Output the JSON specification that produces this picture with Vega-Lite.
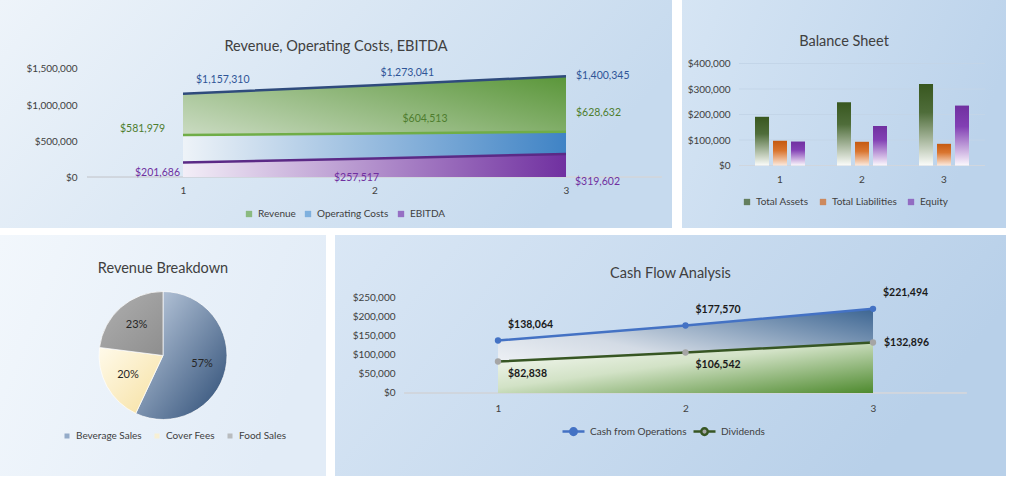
{
"$schema": "https://vega.github.io/schema/vega-lite/v6.json",
"padding": 0,
"background": "#ffffff",
"config": {
 "view": {"stroke": null},
 "font": "Lato",
 "axis": {"domain": false, "ticks": false, "grid": false, "labelColor": "#404040", "labelFont": "Lato", "labelFontSize": 10, "labelOverlap": false, "labelFlush": false},
 "legend": {"labelColor": "#404040", "labelFont": "Lato", "labelFontSize": 10, "orient": "none", "direction": "horizontal", "symbolType": "square", "symbolSize": 40, "symbolStrokeWidth": 0, "columnPadding": 10, "labelOffset": 4, "padding": 0},
 "title": {"font": "Lato", "fontSize": 14.5, "fontWeight": "normal", "color": "#404040", "anchor": "middle", "frame": "group", "baseline": "middle"}
},
"datasets": {
 "pl": [
  {"period": 1, "series": "Revenue", "value": 1157310},
  {"period": 2, "series": "Revenue", "value": 1273041},
  {"period": 3, "series": "Revenue", "value": 1400345},
  {"period": 1, "series": "Operating Costs", "value": 581979},
  {"period": 2, "series": "Operating Costs", "value": 604513},
  {"period": 3, "series": "Operating Costs", "value": 628632},
  {"period": 1, "series": "EBITDA", "value": 201686},
  {"period": 2, "series": "EBITDA", "value": 257517},
  {"period": 3, "series": "EBITDA", "value": 319602}
 ],
 "bs": [
  {"period": 1, "series": "Total Assets", "value": 191000},
  {"period": 2, "series": "Total Assets", "value": 248000},
  {"period": 3, "series": "Total Assets", "value": 320000},
  {"period": 1, "series": "Total Liabilities", "value": 97000},
  {"period": 2, "series": "Total Liabilities", "value": 93000},
  {"period": 3, "series": "Total Liabilities", "value": 85000},
  {"period": 1, "series": "Equity", "value": 94000},
  {"period": 2, "series": "Equity", "value": 155000},
  {"period": 3, "series": "Equity", "value": 235000}
 ],
 "grid": [{"value": 100000}, {"value": 200000}, {"value": 300000}, {"value": 400000}],
 "rev": [
  {"source": "Beverage Sales", "share": 0.57},
  {"source": "Cover Fees", "share": 0.20},
  {"source": "Food Sales", "share": 0.23}
 ],
 "cf": [
  {"period": 1, "series": "Cash from Operations", "value": 138064},
  {"period": 2, "series": "Cash from Operations", "value": 177570},
  {"period": 3, "series": "Cash from Operations", "value": 221494},
  {"period": 1, "series": "Dividends", "value": 82838},
  {"period": 2, "series": "Dividends", "value": 106542},
  {"period": 3, "series": "Dividends", "value": 132896}
 ]
},
"spacing": 7,
"resolve": {"scale": {"x": "independent", "y": "independent", "color": "independent", "fill": "independent", "stroke": "independent"}, "legend": {"color": "independent", "fill": "independent", "stroke": "independent"}},
"vconcat": [
 {
  "spacing": 10,
  "bounds": "flush",
  "resolve": {"scale": {"x": "independent", "y": "independent", "color": "independent", "fill": "independent", "stroke": "independent"}, "legend": {"color": "independent", "fill": "independent", "stroke": "independent"}},
  "hconcat": [
   {
    "width": 672, "height": 228,
    "view": {"stroke": null, "fill": {"gradient": "linear", "x1": 0, "y1": 0, "x2": 1, "y2": 0.3, "stops": [{"offset": 0, "color": "#eef4fa"}, {"offset": 1, "color": "#c6daee"}]}},
    "title": {"text": "Revenue, Operating Costs, EBITDA", "offset": -54},
    "data": {"name": "pl"},
    "encoding": {
     "x": {"field": "period", "type": "quantitative", "scale": {"domain": [0.0444, 3.5535], "nice": false, "zero": false}, "axis": {"values": [1, 2, 3], "format": "d", "offset": -51, "labelPadding": 8, "title": null}},
     "y": {"field": "value", "type": "quantitative", "scale": {"domain": [-708333, 2458333], "nice": false, "zero": false}, "axis": {"values": [0, 500000, 1000000, 1500000], "format": "$,.0f", "offset": -82, "labelPadding": 5, "title": null}}
    },
    "layer": [
     {"mark": {"type": "rule", "color": "#d0d6de", "strokeWidth": 1}, "encoding": {"x": {"datum": 0.5}, "x2": {"datum": 3.5}, "y": {"datum": 0}}},
     {"transform": [{"filter": "datum.series === 'Revenue'"}], "mark": {"type": "area", "fill": {"gradient": "linear", "x1": 0, "y1": 1, "x2": 1, "y2": 0, "stops": [{"offset": 0, "color": "#e8ede6"}, {"offset": 1, "color": "#5a9639"}]}}, "encoding": {"y2": {"datum": 0}}},
     {"transform": [{"filter": "datum.series === 'Operating Costs'"}], "mark": {"type": "area", "fill": {"gradient": "linear", "x1": 0, "y1": 0, "x2": 1, "y2": 0, "stops": [{"offset": 0, "color": "#eef3f8"}, {"offset": 1, "color": "#3f83c5"}]}}, "encoding": {"y2": {"datum": 0}}},
     {"transform": [{"filter": "datum.series === 'EBITDA'"}], "mark": {"type": "area", "fill": {"gradient": "linear", "x1": 0, "y1": 0, "x2": 1, "y2": 0, "stops": [{"offset": 0, "color": "#f3eef7"}, {"offset": 1, "color": "#7030a0"}]}}, "encoding": {"y2": {"datum": 0}}},
     {"transform": [{"filter": "datum.series === 'Revenue'"}], "mark": {"type": "line", "strokeWidth": 2.5, "stroke": "#2f4b7c"}},
     {"transform": [{"filter": "datum.series === 'Operating Costs'"}], "mark": {"type": "line", "strokeWidth": 2.5, "stroke": "#70ad47"}},
     {"transform": [{"filter": "datum.series === 'EBITDA'"}], "mark": {"type": "line", "strokeWidth": 2.5, "stroke": "#5b2a86"}},
     {"mark": {"type": "square", "size": 0}, "encoding": {"color": {"field": "series", "type": "nominal", "scale": {"domain": ["Revenue", "Operating Costs", "EBITDA"], "range": ["#6aa84f", "#5b9bd5", "#7f3fb0"]}, "legend": {"title": null, "legendX": 244, "legendY": 209, "columnPadding": 7}}}},
     {"transform": [{"filter": "datum.series === 'Revenue' && datum.period === 1"}], "mark": {"type": "text", "align": "left", "dx": 13, "dy": -14, "fontSize": 10.5, "color": "#2f5597"}, "encoding": {"text": {"field": "value", "type": "quantitative", "format": "$,.0f"}}},
     {"transform": [{"filter": "datum.series === 'Revenue' && datum.period === 2"}], "mark": {"type": "text", "align": "left", "dx": 6, "dy": -12, "fontSize": 10.5, "color": "#2f5597"}, "encoding": {"text": {"field": "value", "type": "quantitative", "format": "$,.0f"}}},
     {"transform": [{"filter": "datum.series === 'Revenue' && datum.period === 3"}], "mark": {"type": "text", "align": "left", "dx": 10, "dy": 0, "fontSize": 10.5, "color": "#2f5597"}, "encoding": {"text": {"field": "value", "type": "quantitative", "format": "$,.0f"}}},
     {"transform": [{"filter": "datum.series === 'Operating Costs' && datum.period === 1"}], "mark": {"type": "text", "align": "right", "dx": -18, "dy": -6, "fontSize": 10.5, "color": "#4e7d2e"}, "encoding": {"text": {"field": "value", "type": "quantitative", "format": "$,.0f"}}},
     {"transform": [{"filter": "datum.series === 'Operating Costs' && datum.period === 2"}], "mark": {"type": "text", "align": "left", "dx": 28, "dy": -14, "fontSize": 10.5, "color": "#4e7d2e"}, "encoding": {"text": {"field": "value", "type": "quantitative", "format": "$,.0f"}}},
     {"transform": [{"filter": "datum.series === 'Operating Costs' && datum.period === 3"}], "mark": {"type": "text", "align": "left", "dx": 10, "dy": -19, "fontSize": 10.5, "color": "#4e7d2e"}, "encoding": {"text": {"field": "value", "type": "quantitative", "format": "$,.0f"}}},
     {"transform": [{"filter": "datum.series === 'EBITDA' && datum.period === 1"}], "mark": {"type": "text", "align": "right", "dx": -3, "dy": 11, "fontSize": 10.5, "color": "#7030a0"}, "encoding": {"text": {"field": "value", "type": "quantitative", "format": "$,.0f"}}},
     {"transform": [{"filter": "datum.series === 'EBITDA' && datum.period === 2"}], "mark": {"type": "text", "align": "center", "dx": -18, "dy": 20, "fontSize": 10.5, "color": "#7030a0"}, "encoding": {"text": {"field": "value", "type": "quantitative", "format": "$,.0f"}}},
     {"transform": [{"filter": "datum.series === 'EBITDA' && datum.period === 3"}], "mark": {"type": "text", "align": "left", "dx": 9, "dy": 28, "fontSize": 10.5, "color": "#7030a0"}, "encoding": {"text": {"field": "value", "type": "quantitative", "format": "$,.0f"}}}
    ]
   },
   {
    "width": 324, "height": 228,
    "view": {"stroke": null, "fill": {"gradient": "linear", "x1": 0, "y1": 0, "x2": 1, "y2": 0.3, "stops": [{"offset": 0, "color": "#d6e5f4"}, {"offset": 1, "color": "#bcd3eb"}]}},
    "title": {"text": "Balance Sheet", "offset": -49},
    "data": {"name": "bs"},
    "encoding": {
     "x": {"field": "period", "type": "ordinal", "scale": {"paddingInner": 0.39, "paddingOuter": 0.6707, "align": 0.6637}, "axis": {"offset": -62.5, "labelPadding": 9, "labelAngle": 0, "title": null}},
     "y": {"field": "value", "type": "quantitative", "scale": {"domain": [-245098, 649020], "nice": false, "zero": false}, "axis": {"values": [0, 100000, 200000, 300000, 400000], "format": "$,.0f", "offset": -53, "labelPadding": 5, "title": null}}
    },
    "layer": [
     {"data": {"name": "grid"}, "mark": {"type": "rule", "color": "#c3d5e8", "strokeWidth": 1}, "encoding": {"x": {"datum": 1, "bandPosition": -0.32}, "x2": {"datum": 3, "bandPosition": 1.32}, "y": {"field": "value", "type": "quantitative"}}},
     {"mark": {"type": "rule", "color": "#d0d6de", "strokeWidth": 1}, "encoding": {"x": {"datum": 1, "bandPosition": -0.32}, "x2": {"datum": 3, "bandPosition": 1.32}, "y": {"datum": 0}}},
     {"transform": [{"filter": "datum.series === 'Total Assets'"}], "mark": {"type": "bar", "fill": {"gradient": "linear", "x1": 0, "y1": 0, "x2": 0, "y2": 1, "stops": [{"offset": 0, "color": "#38571f"}, {"offset": 0.35, "color": "#4f6d3a"}, {"offset": 1, "color": "#fbfcfa"}]}}, "encoding": {"xOffset": {"field": "series", "type": "nominal", "scale": {"domain": ["Total Assets", "Total Liabilities", "Equity"], "paddingInner": 0.22, "paddingOuter": 0}}, "y2": {"datum": 0}}},
     {"transform": [{"filter": "datum.series === 'Total Liabilities'"}], "mark": {"type": "bar", "fill": {"gradient": "linear", "x1": 0, "y1": 0, "x2": 0, "y2": 1, "stops": [{"offset": 0, "color": "#c55a11"}, {"offset": 0.4, "color": "#d9752f"}, {"offset": 1, "color": "#fce9dc"}]}}, "encoding": {"xOffset": {"field": "series", "type": "nominal", "scale": {"domain": ["Total Assets", "Total Liabilities", "Equity"], "paddingInner": 0.22, "paddingOuter": 0}}, "y2": {"datum": 0}}},
     {"transform": [{"filter": "datum.series === 'Equity'"}], "mark": {"type": "bar", "fill": {"gradient": "linear", "x1": 0, "y1": 0, "x2": 0, "y2": 1, "stops": [{"offset": 0, "color": "#7030a0"}, {"offset": 0.35, "color": "#8240b4"}, {"offset": 1, "color": "#fbf8fd"}]}}, "encoding": {"xOffset": {"field": "series", "type": "nominal", "scale": {"domain": ["Total Assets", "Total Liabilities", "Equity"], "paddingInner": 0.22, "paddingOuter": 0}}, "y2": {"datum": 0}}},
     {"mark": {"type": "square", "size": 0}, "encoding": {"color": {"field": "series", "type": "nominal", "scale": {"domain": ["Total Assets", "Total Liabilities", "Equity"], "range": ["#38571f", "#d0661f", "#7f3fb0"]}, "legend": {"title": null, "legendX": 60, "legendY": 197, "columnPadding": 9}}}}
    ]
   }
  ]
 },
 {
  "spacing": 9,
  "bounds": "flush",
  "resolve": {"scale": {"x": "independent", "y": "independent", "color": "independent", "fill": "independent", "stroke": "independent"}, "legend": {"color": "independent", "fill": "independent", "stroke": "independent"}},
  "hconcat": [
   {
    "width": 326, "height": 241,
    "view": {"stroke": null, "fill": {"gradient": "linear", "x1": 0, "y1": 0, "x2": 1, "y2": 0.3, "stops": [{"offset": 0, "color": "#f2f7fc"}, {"offset": 1, "color": "#e2ecf7"}]}},
    "title": {"text": "Revenue Breakdown", "offset": -41},
    "data": {"name": "rev"},
    "transform": [{"stack": "share", "groupby": [], "as": ["t0", "t1"], "sort": [{"field": "source", "order": "ascending"}]}, {"calculate": "(datum.t0 + datum.t1) / 2", "as": "mid"}],
    "layer": [
     {"transform": [{"filter": "datum.source === 'Beverage Sales'"}], "mark": {"type": "arc", "outerRadius": 64, "stroke": "#ffffff", "strokeWidth": 0.7, "fill": {"gradient": "linear", "x1": 0, "y1": 0, "x2": 1, "y2": 1, "stops": [{"offset": 0, "color": "#c7d4e5"}, {"offset": 1, "color": "#2b4b74"}]}}, "encoding": {"theta": {"field": "t0", "type": "quantitative", "scale": {"domain": [0, 1]}}, "theta2": {"field": "t1"}}},
     {"transform": [{"filter": "datum.source === 'Cover Fees'"}], "mark": {"type": "arc", "outerRadius": 64, "stroke": "#ffffff", "strokeWidth": 0.7, "fill": {"gradient": "linear", "x1": 0, "y1": 0, "x2": 1, "y2": 1, "stops": [{"offset": 0, "color": "#fffaea"}, {"offset": 1, "color": "#f6e0a0"}]}}, "encoding": {"theta": {"field": "t0", "type": "quantitative", "scale": {"domain": [0, 1]}}, "theta2": {"field": "t1"}}},
     {"transform": [{"filter": "datum.source === 'Food Sales'"}], "mark": {"type": "arc", "outerRadius": 64, "stroke": "#ffffff", "strokeWidth": 0.7, "fill": {"gradient": "linear", "x1": 0, "y1": 0, "x2": 1, "y2": 1, "stops": [{"offset": 0, "color": "#b0b0b0"}, {"offset": 1, "color": "#8e8e8e"}]}}, "encoding": {"theta": {"field": "t0", "type": "quantitative", "scale": {"domain": [0, 1]}}, "theta2": {"field": "t1"}}},
     {"mark": {"type": "square", "size": 0}, "encoding": {"color": {"field": "source", "type": "nominal", "scale": {"domain": ["Beverage Sales", "Cover Fees", "Food Sales"], "range": ["#6f8db3", "#fdf0c4", "#a6a6a6"]}, "legend": {"title": null, "legendX": 62, "legendY": 196, "symbolSize": 25}}}},
     {"mark": {"type": "text", "radius": 40, "fontSize": 11, "color": "#262626"}, "encoding": {"theta": {"field": "mid", "type": "quantitative", "scale": {"domain": [0, 1]}}, "text": {"field": "share", "type": "quantitative", "format": ".0%"}}}
    ]
   },
   {
    "width": 671, "height": 241,
    "view": {"stroke": null, "fill": {"gradient": "linear", "x1": 0, "y1": 0, "x2": 1, "y2": 0.3, "stops": [{"offset": 0, "color": "#dae7f5"}, {"offset": 1, "color": "#b8d0e9"}]}},
    "title": {"text": "Cash Flow Analysis", "offset": -46},
    "data": {"name": "cf"},
    "encoding": {
     "x": {"field": "period", "type": "quantitative", "scale": {"domain": [0.1307, 3.7093], "nice": false, "zero": false}, "axis": {"values": [1, 2, 3], "format": "d", "offset": -83, "labelPadding": 10, "title": null}},
     "y": {"field": "value", "type": "quantitative", "scale": {"domain": [-218421, 415789], "nice": false, "zero": false}, "axis": {"values": [0, 50000, 100000, 150000, 200000, 250000], "format": "$,.0f", "offset": -65, "labelPadding": 5, "title": null}}
    },
    "layer": [
     {"mark": {"type": "rule", "color": "#d0d6de", "strokeWidth": 1}, "encoding": {"x": {"datum": 0.5}, "x2": {"datum": 3.5}, "y": {"datum": 0}}},
     {"transform": [{"filter": "datum.series === 'Cash from Operations'"}], "mark": {"type": "area", "fill": {"gradient": "linear", "x1": 0, "y1": 1, "x2": 1, "y2": 0, "stops": [{"offset": 0, "color": "#ffffff"}, {"offset": 0.45, "color": "#d3dbe5"}, {"offset": 1, "color": "#3c6592"}]}}, "encoding": {"y2": {"datum": 0}}},
     {"transform": [{"filter": "datum.series === 'Dividends'"}], "mark": {"type": "area", "fill": {"gradient": "linear", "x1": 0, "y1": 0, "x2": 1, "y2": 1, "stops": [{"offset": 0, "color": "#ffffff"}, {"offset": 0.45, "color": "#d2e2c6"}, {"offset": 1, "color": "#4e8a2e"}]}}, "encoding": {"y2": {"datum": 0}}},
     {"mark": {"type": "line", "strokeWidth": 2.5}, "encoding": {"stroke": {"field": "series", "type": "nominal", "scale": {"domain": ["Cash from Operations", "Dividends"], "range": ["#4472c4", "#375623"]}, "legend": {"title": null, "legendX": 226, "legendY": 184, "columnPadding": 1, "symbolType": "M-1,0H-0.3M0.3,0H1M0.3,0A0.3,0.3,0,1,1,-0.3,0A0.3,0.3,0,1,1,0.3,0Z", "symbolSize": 484, "symbolStrokeWidth": 2.5}}}},
     {"mark": {"type": "circle", "size": 40, "opacity": 1}, "encoding": {"fill": {"field": "series", "type": "nominal", "scale": {"domain": ["Cash from Operations", "Dividends"], "range": ["#4472c4", "#a5a5a5"]}, "legend": {"title": null, "legendX": 226, "legendY": 184, "columnPadding": 1, "symbolType": "M-1,0H-0.3M0.3,0H1M0.3,0A0.3,0.3,0,1,1,-0.3,0A0.3,0.3,0,1,1,0.3,0Z", "symbolSize": 484, "symbolStrokeWidth": 2.5}}}},
     {"transform": [{"filter": "datum.series === 'Cash from Operations'"}], "mark": {"type": "text", "align": "left", "dx": 10, "dy": -16, "fontSize": 10.5, "fontWeight": "bold", "color": "#1a1a1a"}, "encoding": {"text": {"field": "value", "type": "quantitative", "format": "$,.0f"}}},
     {"transform": [{"filter": "datum.series === 'Dividends' && datum.period < 3"}], "mark": {"type": "text", "align": "left", "dx": 10, "dy": 12, "fontSize": 10.5, "fontWeight": "bold", "color": "#1a1a1a"}, "encoding": {"text": {"field": "value", "type": "quantitative", "format": "$,.0f"}}},
     {"transform": [{"filter": "datum.series === 'Dividends' && datum.period === 3"}], "mark": {"type": "text", "align": "left", "dx": 11, "dy": 1, "fontSize": 10.5, "fontWeight": "bold", "color": "#1a1a1a"}, "encoding": {"text": {"field": "value", "type": "quantitative", "format": "$,.0f"}}}
    ]
   }
  ]
 }
]
}
